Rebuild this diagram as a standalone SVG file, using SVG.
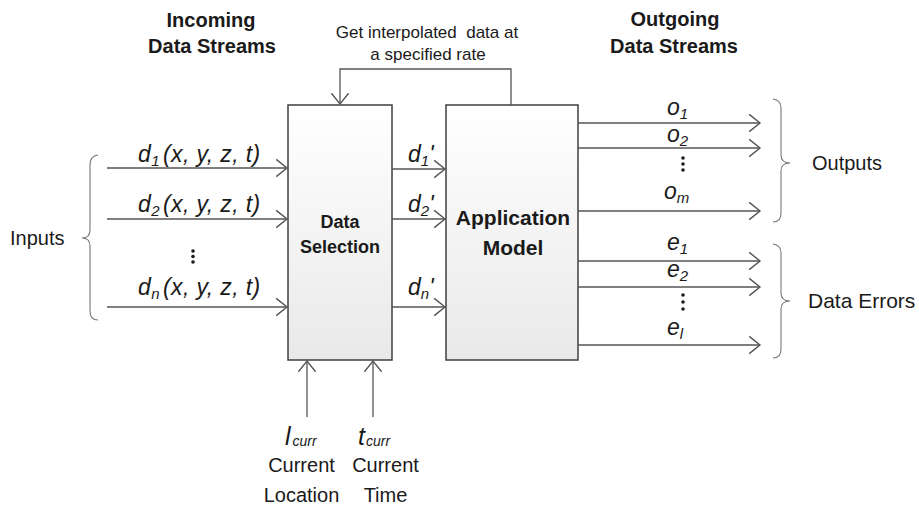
<svg xmlns="http://www.w3.org/2000/svg" width="919" height="509" viewBox="0 0 919 509">
<style>
.t{font-family:"Liberation Sans",Arial,sans-serif;fill:#1a1a1a}
.b{font-weight:bold}
.i{font-style:italic}
.ln{stroke:#555;stroke-width:1.3;fill:none}
.br{stroke:#777;stroke-width:1.1;fill:none}
.box{stroke:#3f3f3f;stroke-width:1.5;fill:url(#g)}
.dl{font-size:23px;letter-spacing:0.4px}
</style>
<defs>
<linearGradient id="g" x1="0" y1="0" x2="0" y2="1">
<stop offset="0" stop-color="#ffffff"/>
<stop offset="1" stop-color="#e9e9e9"/>
</linearGradient>
<marker id="a" markerUnits="userSpaceOnUse" markerWidth="14" markerHeight="20" viewBox="-11 -9 13 18" refX="0" refY="0" orient="auto">
<path d="M-10,-8 L0,0 L-10,8" fill="none" stroke="#555" stroke-width="1.3"/>
</marker>
</defs>
<rect width="919" height="509" fill="#fff"/>

<g id="headings">
<text class="t b" x="211" y="27" font-size="20" text-anchor="middle">Incoming</text>
<text class="t b" x="212" y="53" font-size="20" text-anchor="middle">Data Streams</text>
<text class="t b" x="675" y="26" font-size="20" text-anchor="middle">Outgoing</text>
<text class="t b" x="674" y="53" font-size="20" text-anchor="middle">Data Streams</text>
<text class="t" x="427" y="38" font-size="17" text-anchor="middle" xml:space="preserve">Get interpolated  data at</text>
<text class="t" x="428" y="60" font-size="17" text-anchor="middle">a specified rate</text>
</g>

<g id="data-selection">
<rect class="box" x="288" y="105" width="104" height="255"/>
<text class="t b" x="340" y="228" font-size="18" text-anchor="middle">Data</text>
<text class="t b" x="340" y="253" font-size="18" text-anchor="middle">Selection</text>
</g>

<g id="application-model">
<rect class="box" x="446" y="105" width="132" height="255"/>
<text class="t b" x="513" y="225" font-size="21" text-anchor="middle">Application</text>
<text class="t b" x="513" y="255" font-size="21" text-anchor="middle">Model</text>
</g>

<g id="connectors">
<path class="ln" d="M511,105 V69 H340 V104" marker-end="url(#a)"/>
<path class="ln" d="M107,168 H287" marker-end="url(#a)"/>
<path class="ln" d="M107,219 H287" marker-end="url(#a)"/>
<path class="ln" d="M107,307 H287" marker-end="url(#a)"/>
<path class="ln" d="M392,169 H445" marker-end="url(#a)"/>
<path class="ln" d="M392,219 H445" marker-end="url(#a)"/>
<path class="ln" d="M392,307 H445" marker-end="url(#a)"/>
<path class="ln" d="M578,123 H760" marker-end="url(#a)"/>
<path class="ln" d="M578,148 H760" marker-end="url(#a)"/>
<path class="ln" d="M578,211 H760" marker-end="url(#a)"/>
<path class="ln" d="M578,261 H760" marker-end="url(#a)"/>
<path class="ln" d="M578,287 H760" marker-end="url(#a)"/>
<path class="ln" d="M578,345 H760" marker-end="url(#a)"/>
<path class="ln" d="M307,417 V361" marker-end="url(#a)"/>
<path class="ln" d="M373,417 V361" marker-end="url(#a)"/>
</g>

<g id="inputs">
<path class="br" d="M98,155 Q90,156 90,165 L90,230 Q90,238 82,238 Q90,238 90,246 L90,311 Q90,320 98,320"/>
<text class="t" x="10" y="245" font-size="20">Inputs</text>
<text class="t i dl" x="138" y="162">d<tspan font-size="15" dy="4">1</tspan><tspan dy="-4" dx="3">(x, y, z, t)</tspan></text>
<text class="t i dl" x="138" y="212">d<tspan font-size="15" dy="4">2</tspan><tspan dy="-4" dx="3">(x, y, z, t)</tspan></text>
<text class="t i dl" x="138" y="295">d<tspan font-size="15" dy="4">n</tspan><tspan dy="-4" dx="3">(x, y, z, t)</tspan></text>
<circle cx="193" cy="251" r="1.8" fill="#1a1a1a"/>
<circle cx="193" cy="256.5" r="1.8" fill="#1a1a1a"/>
<circle cx="193" cy="262" r="1.8" fill="#1a1a1a"/>
</g>

<g id="selected-data">
<text class="t i" x="408" y="162" font-size="23">d<tspan font-size="15" dy="4">1</tspan><tspan dy="-4">'</tspan></text>
<text class="t i" x="408" y="212" font-size="23">d<tspan font-size="15" dy="4">2</tspan><tspan dy="-4">'</tspan></text>
<text class="t i" x="408" y="295" font-size="23">d<tspan font-size="15" dy="4">n</tspan><tspan dy="-4">'</tspan></text>
</g>

<g id="outputs">
<text class="t i" x="667" y="115" font-size="23">o<tspan font-size="15" dy="4">1</tspan></text>
<text class="t i" x="667" y="142" font-size="23">o<tspan font-size="15" dy="4">2</tspan></text>
<circle cx="683" cy="158" r="1.8" fill="#1a1a1a"/>
<circle cx="683" cy="164" r="1.8" fill="#1a1a1a"/>
<circle cx="683" cy="170" r="1.8" fill="#1a1a1a"/>
<text class="t i" x="664" y="199" font-size="23">o<tspan font-size="15" dy="4">m</tspan></text>
<path class="br" d="M773,99 Q781,100 781,108 L781,155 Q781,163 790,163 Q781,163 781,171 L781,213 Q781,222 773,222"/>
<text class="t" x="812" y="170" font-size="20">Outputs</text>
</g>

<g id="errors">
<text class="t i" x="667" y="250" font-size="23">e<tspan font-size="15" dy="4">1</tspan></text>
<text class="t i" x="667" y="277" font-size="23">e<tspan font-size="15" dy="4">2</tspan></text>
<circle cx="683" cy="295" r="1.8" fill="#1a1a1a"/>
<circle cx="683" cy="302" r="1.8" fill="#1a1a1a"/>
<circle cx="683" cy="309" r="1.8" fill="#1a1a1a"/>
<text class="t i" x="667" y="335" font-size="23">e<tspan font-size="15" dy="4">l</tspan></text>
<path class="br" d="M773,244 Q781,245 781,253 L781,293 Q781,301 790,301 Q781,301 781,309 L781,349 Q781,358 773,358"/>
<text class="t" x="808" y="308" font-size="21">Data Errors</text>
</g>

<g id="current-location">
<text class="t i" x="285" y="445" font-size="25">l<tspan font-size="14" dy="1" dx="2">curr</tspan></text>
<text class="t" x="301.5" y="472" font-size="20" text-anchor="middle">Current</text>
<text class="t" x="301.5" y="502" font-size="20" text-anchor="middle">Location</text>
</g>

<g id="current-time">
<text class="t i" x="358" y="445" font-size="25">t<tspan font-size="14" dy="1" dx="1">curr</tspan></text>
<text class="t" x="385.5" y="472" font-size="20" text-anchor="middle">Current</text>
<text class="t" x="385.5" y="502" font-size="20" text-anchor="middle">Time</text>
</g>
</svg>
